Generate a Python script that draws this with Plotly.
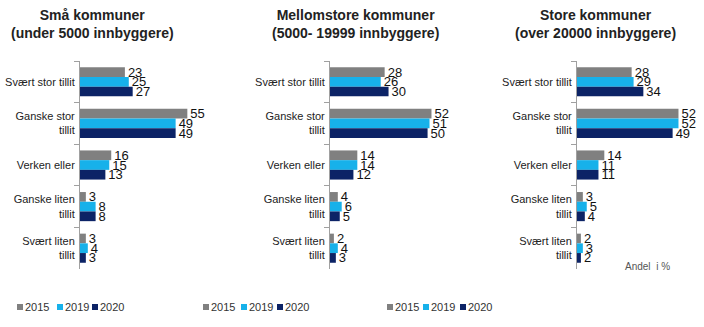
import plotly.graph_objects as go

categories = ["Svært stor tillit", "Ganske stor<br>tillit", "Verken eller", "Ganske liten<br>tillit", "Svært liten<br>tillit"]
years = ["2015", "2019", "2020"]
colors = ["#808080", "#17B1EA", "#0C2366"]

panel_titles = ["<b>Små kommuner<br>(under 5000 innbyggere)</b>",
                "<b>Mellomstore kommuner<br>(5000- 19999 innbyggere)</b>",
                "<b>Store kommuner<br>(over 20000 innbyggere)</b>"]

small_2015 = [23, 55, 16, 3, 3]
small_2019 = [25, 49, 15, 8, 4]
small_2020 = [27, 49, 13, 8, 3]

medium_2015 = [28, 52, 14, 4, 2]
medium_2019 = [26, 51, 14, 6, 4]
medium_2020 = [30, 50, 12, 5, 3]

large_2015 = [28, 52, 14, 3, 2]
large_2019 = [29, 52, 11, 5, 3]
large_2020 = [34, 49, 11, 4, 2]

panels = [
    [small_2015, small_2019, small_2020],
    [medium_2015, medium_2019, medium_2020],
    [large_2015, large_2019, large_2020],
]

W, H = 704, 327
FONT = "Arial, Liberation Sans, sans-serif"
axis_x0 = [80, 330, 577]
axis_w = 121
y_top, y_bot = 61, 269
title_cx = [92, 355, 595]
legend_x = [[17, 57, 92], [203, 241, 277], [387, 423, 460]]
legend_y = 307

fig = go.Figure()
for p, series in enumerate(panels):
    xa = "x" if p == 0 else f"x{p+1}"
    ya = "y" if p == 0 else f"y{p+1}"
    for i, vals in enumerate(series):
        fig.add_trace(go.Bar(
            y=categories, x=vals, orientation="h", name=years[i],
            marker=dict(color=colors[i], line=dict(width=0)),
            text=[str(v) for v in vals], textposition="outside",
            textfont=dict(size=13, color="#111111", family=FONT),
            constraintext="none", cliponaxis=False,
            xaxis=xa, yaxis=ya, showlegend=False,
            hoverinfo="skip",
        ))

layout = dict(
    width=W, height=H, margin=dict(l=0, r=0, t=0, b=0),
    paper_bgcolor="white", plot_bgcolor="white",
    barmode="group", bargap=0.3, bargroupgap=0,
    font=dict(family=FONT, color="#222222"),
    showlegend=False,
)
for p in range(3):
    xk = "xaxis" if p == 0 else f"xaxis{p+1}"
    yk = "yaxis" if p == 0 else f"yaxis{p+1}"
    ya = "y" if p == 0 else f"y{p+1}"
    xa = "x" if p == 0 else f"x{p+1}"
    layout[xk] = dict(domain=[axis_x0[p] / W, (axis_x0[p] + axis_w) / W], range=[0, 62],
                      visible=False, anchor=ya)
    layout[yk] = dict(domain=[1 - y_bot / H, 1 - y_top / H], autorange="reversed",
                      anchor=xa, showline=True, linecolor="#A0A0A0", linewidth=1,
                      ticks="outside", tickson="boundaries", ticklen=5, tickcolor="#A0A0A0",
                      tickfont=dict(size=11, color="#222222", family=FONT),
                      showgrid=False, zeroline=False, ticklabelstandoff=2)
fig.update_layout(**layout)

# legends drawn per panel: colour swatch + year text
for p in range(3):
    for i, yr in enumerate(years):
        x0 = legend_x[p][i]
        fig.add_shape(type="rect", xref="paper", yref="paper",
                      x0=x0 / W, x1=(x0 + 6) / W,
                      y0=1 - (legend_y + 3) / H, y1=1 - (legend_y - 3) / H,
                      fillcolor=colors[i], line=dict(width=0))
        fig.add_annotation(text=yr, x=(x0 + 6) / W, y=1 - legend_y / H, xref="paper", yref="paper",
                           showarrow=False, xanchor="left", yanchor="middle",
                           font=dict(size=11, color="#333333", family=FONT))

for p in range(3):
    fig.add_annotation(text=panel_titles[p], x=title_cx[p] / W, y=1 - 24 / H, xref="paper", yref="paper",
                       showarrow=False, xanchor="center", yanchor="middle",
                       font=dict(size=14, color="#222222", family=FONT))
fig.add_annotation(text="Andel  i %", x=672 / W, y=1 - 266 / H, xref="paper", yref="paper",
                   showarrow=False, xanchor="right", yanchor="middle",
                   font=dict(size=10, color="#555555", family=FONT))

fig.write_html("out.html")
